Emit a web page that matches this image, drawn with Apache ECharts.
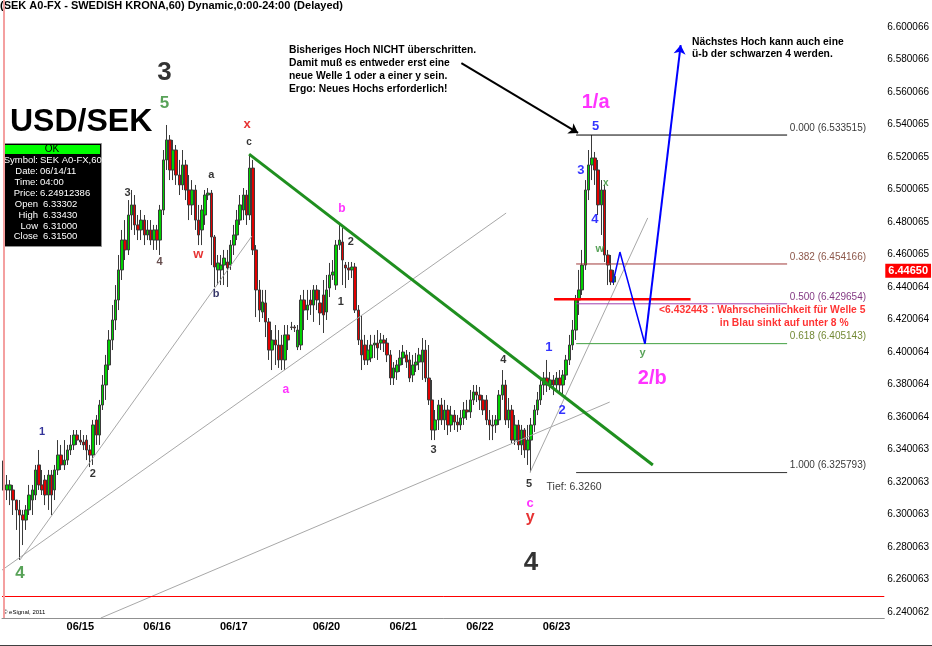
<!DOCTYPE html>
<html><head><meta charset="utf-8">
<script src="https://cdn.jsdelivr.net/npm/echarts@6/dist/echarts.min.js"></script>
<style>html,body{margin:0;padding:0;background:#fff}#c{width:932px;height:646px}</style>
</head><body><div id="c"></div><script>
// ---- categories (hourly bars) ----
const dayNames     = ['06/14','06/15','06/16','06/17','06/19','06/20','06/21','06/22','06/23'];
const dayFirstHour = [0,0,0,0,19,0,0,0,0];
const dayLastHour  = [23,23,23,23,23,23,23,23,18];
const slotCount = 276;

// ---- OHLC values (USD/SEK, 60 min) ----
const open = [
6.3330,6.3151,6.3151,6.3151,6.3089,6.3028,6.2997,6.2966,6.3028,6.3089,
6.3120,6.3305,6.3182,6.3212,6.3120,6.3243,6.3151,6.3274,6.3366,6.3305,
6.3335,6.3397,6.3428,6.3489,6.3458,6.3446,6.3458,6.3397,6.3366,6.3582,
6.3489,6.3674,6.3797,6.3920,6.4074,6.4197,6.4320,6.4505,6.4689,6.4628,
6.4843,6.4905,6.4782,6.4751,6.4812,6.4720,6.4751,6.4689,6.4751,6.4689,
6.4874,6.5182,6.5305,6.5120,6.5243,6.5089,6.5028,6.5151,6.4997,6.4905,
6.4997,6.4812,6.4751,6.4843,6.4966,6.4978,6.4708,6.4505,6.4505,6.4535,
6.4554,6.4535,6.4658,6.4720,6.4812,6.4874,6.4966,6.4843,6.5132,6.4628,
6.4382,6.4246,6.4302,6.4185,6.4012,6.4074,6.4043,6.4043,6.3951,6.4105,
6.4154,6.4154,6.4031,6.4043,6.4320,6.4258,6.4320,6.4289,6.4382,6.4302,
6.4351,6.4246,6.4394,6.4474,6.4412,6.4658,6.4677,6.4535,6.4517,6.4505,
6.4523,6.4258,6.4074,6.4043,6.3951,6.3963,6.4043,6.4055,6.4055,6.4074,
6.4055,6.3982,6.3840,6.3877,6.3920,6.3963,6.3982,6.3951,6.3858,6.3920,
6.3938,6.3938,6.4012,6.3840,6.3705,6.3520,6.3582,6.3674,6.3582,6.3643,
6.3551,6.3612,6.3569,6.3551,6.3594,6.3643,6.3631,6.3705,6.3754,6.3735,
6.3705,6.3705,6.3582,6.3551,6.3551,6.3582,6.3735,6.3797,6.3582,6.3643,
6.3458,6.3551,6.3428,6.3520,6.3397,6.3458,6.3551,6.3643,6.3705,6.3797,
6.3840,6.3797,6.3828,6.3797,6.3840,6.3797,6.3858,6.3951,6.4043,6.4135,
6.4320,6.4382,6.4535,6.4997,6.5151,6.5194,6.5120,6.4905,6.4997,6.4597,
6.4505,6.4431];
const close = [
6.3150,6.3182,6.3182,6.3089,6.3028,6.2997,6.2966,6.3028,6.3120,6.3151,
6.3274,6.3182,6.3151,6.3120,6.3243,6.3120,6.3274,6.3366,6.3305,6.3335,
6.3397,6.3428,6.3489,6.3458,6.3446,6.3428,6.3397,6.3366,6.3551,6.3489,
6.3674,6.3797,6.3920,6.4074,6.4197,6.4320,6.4505,6.4689,6.4628,6.4843,
6.4905,6.4782,6.4751,6.4812,6.4720,6.4751,6.4689,6.4751,6.4689,6.4874,
6.5182,6.5305,6.5120,6.5243,6.5089,6.5028,6.5151,6.4997,6.4905,6.4997,
6.4812,6.4720,6.4874,6.4966,6.4978,6.4708,6.4523,6.4548,6.4535,6.4578,
6.4517,6.4658,6.4720,6.4812,6.4905,6.4966,6.4843,6.5132,6.4628,6.4382,
6.4258,6.4308,6.4185,6.4012,6.4074,6.4043,6.3951,6.3951,6.4105,6.4074,
6.4151,6.4148,6.4135,6.4320,6.4258,6.4289,6.4289,6.4382,6.4320,6.4240,
6.4228,6.4382,6.4474,6.4492,6.4658,6.4689,6.4566,6.4517,6.4505,6.4523,
6.4258,6.4074,6.3982,6.3951,6.4012,6.4043,6.4055,6.4025,6.4074,6.4055,
6.3982,6.3840,6.3902,6.3920,6.3963,6.4000,6.3938,6.3840,6.3920,6.3938,
6.3982,6.4012,6.3840,6.3705,6.3520,6.3582,6.3674,6.3582,6.3643,6.3551,
6.3612,6.3569,6.3551,6.3594,6.3643,6.3631,6.3705,6.3754,6.3735,6.3705,
6.3643,6.3582,6.3551,6.3545,6.3582,6.3735,6.3797,6.3582,6.3643,6.3458,
6.3551,6.3428,6.3520,6.3397,6.3458,6.3551,6.3643,6.3705,6.3797,6.3840,
6.3797,6.3828,6.3797,6.3840,6.3797,6.3858,6.3951,6.4043,6.4135,6.4320,
6.4382,6.4535,6.4997,6.5151,6.5194,6.5120,6.4905,6.4997,6.4597,6.4535,
6.4431,6.4465];
const high = [
6.3343,6.3243,6.3212,6.3182,6.3089,6.3089,6.3028,6.3058,6.3182,6.3182,
6.3305,6.3397,6.3274,6.3243,6.3274,6.3274,6.3305,6.3458,6.3428,6.3458,
6.3428,6.3489,6.3520,6.3520,6.3520,6.3489,6.3489,6.3428,6.3582,6.3612,
6.3705,6.3858,6.3982,6.4135,6.4289,6.4412,6.4597,6.4751,6.4812,6.4935,
6.4997,6.4966,6.4843,6.4874,6.4843,6.4812,6.4812,6.4782,6.4782,6.4905,
6.5243,6.5397,6.5335,6.5305,6.5274,6.5182,6.5243,6.5182,6.5089,6.5058,
6.5028,6.4905,6.4905,6.4997,6.5009,6.4997,6.4720,6.4597,6.4597,6.4628,
6.4628,6.4689,6.4782,6.4874,6.4966,6.5009,6.4997,6.5218,6.5182,6.4658,
6.4443,6.4382,6.4382,6.4209,6.4135,6.4166,6.4135,6.4105,6.4166,6.4166,
6.4185,6.4166,6.4166,6.4351,6.4382,6.4382,6.4382,6.4412,6.4412,6.4382,
6.4443,6.4474,6.4548,6.4566,6.4689,6.4782,6.4763,6.4554,6.4554,6.4554,
6.4548,6.4289,6.4228,6.4105,6.4074,6.4105,6.4105,6.4135,6.4117,6.4105,
6.4086,6.4012,6.3938,6.3951,6.4012,6.4043,6.4012,6.4000,6.3982,6.3994,
6.4025,6.4086,6.4074,6.4043,6.3828,6.3643,6.3705,6.3717,6.3705,6.3674,
6.3668,6.3643,6.3612,6.3643,6.3692,6.3705,6.3766,6.3797,6.3797,6.3785,
6.3735,6.3735,6.3643,6.3612,6.3612,6.3766,6.3889,6.3828,6.3717,6.3674,
6.3612,6.3582,6.3551,6.3532,6.3551,6.3594,6.3674,6.3754,6.3840,6.3877,
6.3951,6.3877,6.3858,6.3877,6.3889,6.3889,6.3982,6.4105,6.4197,6.4351,
6.4505,6.4628,6.5058,6.5243,6.5335,6.5231,6.5182,6.5058,6.5028,6.4628,
6.4597,6.4505];
const low = [
6.3100,6.3089,6.3058,6.2997,6.2905,6.2720,6.2812,6.2905,6.2997,6.2997,
6.3089,6.3151,6.3120,6.3058,6.3028,6.2997,6.3089,6.3243,6.3274,6.3274,
6.3305,6.3366,6.3397,6.3428,6.3428,6.3397,6.3335,6.3292,6.3305,6.3428,
6.3428,6.3643,6.3705,6.3889,6.4012,6.4135,6.4258,6.4443,6.4566,6.4597,
6.4751,6.4720,6.4689,6.4689,6.4658,6.4689,6.4658,6.4628,6.4628,6.4597,
6.4843,6.5120,6.5058,6.5058,6.5028,6.4966,6.4997,6.4935,6.4812,6.4843,
6.4751,6.4658,6.4658,6.4782,6.4935,6.4535,6.4400,6.4412,6.4412,6.4412,
6.4400,6.4505,6.4597,6.4689,6.4782,6.4812,6.4782,6.4812,6.4597,6.4215,
6.4185,6.4209,6.4092,6.3951,6.3889,6.3920,6.3902,6.3889,6.3889,6.4012,
6.4135,6.4123,6.4012,6.4012,6.4135,6.4197,6.4228,6.4185,6.4258,6.4166,
6.4117,6.4197,6.4338,6.4443,6.4382,6.4628,6.4412,6.4394,6.4443,6.4455,
6.4240,6.4043,6.3889,6.3920,6.3920,6.3938,6.3963,6.3951,6.4012,6.4000,
6.3938,6.3797,6.3797,6.3828,6.3877,6.3920,6.3902,6.3815,6.3815,6.3877,
6.3889,6.3828,6.3815,6.3674,6.3458,6.3458,6.3520,6.3551,6.3520,6.3489,
6.3508,6.3520,6.3508,6.3520,6.3551,6.3582,6.3594,6.3674,6.3692,6.3643,
6.3612,6.3551,6.3458,6.3458,6.3502,6.3551,6.3705,6.3551,6.3532,6.3440,
6.3428,6.3397,6.3366,6.3348,6.3305,6.3260,6.3508,6.3612,6.3674,6.3735,
6.3754,6.3766,6.3735,6.3754,6.3754,6.3735,6.3828,6.3920,6.4012,6.4074,
6.4228,6.4351,6.4505,6.4935,6.5058,6.5028,6.4843,6.4720,6.4554,6.4412,
6.4412,6.4412];

// ---- price axis tick labels ----
const yTicks = [6.240062,6.260063,6.280063,6.300063,6.320063,6.340063,6.360064,6.380064,6.400064,
  6.420064,6.440064,6.460065,6.480065,6.500065,6.520065,6.540065,6.560066,6.580066,6.600066];

// ---- Fibonacci retracement ----
const fibRatios = ['0.000','0.382','0.500','0.618','1.000'];
const fibPrices = [6.533515,6.454166,6.429654,6.405143,6.325793];
const fibLineColors = ['#000000','#a03a3a','#a040b0','#40a040','#303030'];
const fibTextColors = ['#000000','#6e2a1a','#600060','#4f6a00','#000000'];

// ---- info box / cursor ----
const cursorPrice = 6.24912386;
const infoRows = [['Symbol:','SEK A0-FX,60'],['Date:','06/14/11'],['Time:','04:00'],['Price:','6.24912386'],
  ['Open','6.33302'],['High','6.33430'],['Low','6.31000'],['Close','6.31500']];
const redLevel = 6.432443;
const tiefPrice = 6.3260;

// ---- drawn annotation lines (bar index, price) ----
const fanLines = [
  [[5.1,6.2720],[77.7,6.4714]],
  [[-0.5,6.2658],[157.2,6.4855]],
  [[30.4,6.2363],[189.6,6.3692]],
  [[164.7,6.3260],[201.5,6.4825]]
];
const trendLine = [[76.8,6.5218],[203.1,6.3305]];
const bluePath = [[190.6,6.4425],[192.8,6.4615],[200.6,6.4051]];
const blueArrow = [[200.6,6.4051],[211.8,6.5889]];
const calloutArrow = [[143.2,6.5778],[179.7,6.5348]];
const fibSpan = [179.1,245.1];
const redSpan = [172.2,214.9];

// ---- wave labels: text, bar index, price, colour, size ----
const waveLabels = [
 ['3',50.3,6.5717,'#000000',26],['5',50.3,6.5532,'#2e8b2e',17],['4',5.1,6.2640,'#2e8b2e',17],
 ['1',12.0,6.3508,'#000080',11],['2',27.9,6.3249,'#000000',11],['3',38.8,6.4978,'#000000',11],
 ['4',48.8,6.4554,'#402020',11],['x',76.2,6.5403,'#e00000',13],['c',76.8,6.5292,'#000000',10],
 ['a',65.0,6.5089,'#000000',11],['w',60.9,6.4603,'#e00000',13],['b',66.5,6.4357,'#000040',11],
 ['b',105.8,6.4880,'#ff00ff',12],['2',108.6,6.4677,'#000000',11],['1',105.5,6.4308,'#000000',11],
 ['a',88.3,6.3766,'#ff00ff',12],['3',134.5,6.3397,'#000000',11],['4',156.3,6.3951,'#000000',11],
 ['5',164.4,6.3188,'#000000',11],['c',164.7,6.3071,'#ff00ff',13],['y',164.7,6.2978,'#e00000',16],
 ['4',165.0,6.2702,'#000000',26],['1',170.6,6.4031,'#0000ff',13],['2',174.7,6.3643,'#0000ff',13],
 ['1/a',185.2,6.5538,'#ff00ff',20],['5',185.2,6.5391,'#0000ff',13],['3',180.6,6.5120,'#0000ff',13],
 ['x',188.4,6.5040,'#2e8b2e',10],['4',185.0,6.4818,'#0000ff',13],['w',186.5,6.4634,'#2e8b2e',11],
 ['2/b',202.9,6.3840,'#ff00ff',20],['y',199.9,6.3994,'#2e8b2e',11]
];

const FONT = 'Liberation Sans';
const cats = [];
dayNames.forEach((d,k)=>{ for(let h=dayFirstHour[k]; h<=dayLastHour[k]; h++) cats.push(d+' '+String(h).padStart(2,'0')); });
while (cats.length < slotCount) cats.push('f'+cats.length);
const candles = open.map((o,i)=>[o, close[i], low[i], high[i]]);
const lastClose = close[close.length-1];

function seg(pts, color, width, extra) {
  return Object.assign({type:'line', xAxisIndex:1, yAxisIndex:0, data:pts, symbol:'none', silent:true,
    lineStyle:{color:color, width:width}, z:4, animation:false}, extra||{});
}

const series = [{
  type:'candlestick', xAxisIndex:0, yAxisIndex:0, data:candles, barWidth:3, z:2, silent:true,
  itemStyle:{color:'#00d000', color0:'#e00000', borderColor:'#3a3a3a', borderColor0:'#3a3a3a', borderWidth:1},
  markLine:{silent:true, symbol:['none','none'], animation:false, data:[
    {yAxis:lastClose, lineStyle:{color:'rgba(0,0,0,0)'}, label:{show:true, position:'end', distance:1,
      formatter: lastClose.toFixed(5), color:'#fff', backgroundColor:'#ff0000', padding:[2,3,1,3],
      fontSize:11, fontWeight:'bold', fontFamily:FONT}},
    {yAxis:cursorPrice, lineStyle:{color:'#ff0000', width:1, type:'solid'}, label:{show:false}},
    {xAxis:0, lineStyle:{color:'#f4a0a0', width:2, type:'solid'}, label:{show:false}}
  ]}
}];
fanLines.forEach(l=>series.push(seg(l,'#a8a8a8',1)));
fibPrices.forEach((p,k)=>series.push(seg([[fibSpan[0],p],[fibSpan[1],p]], fibLineColors[k], 1)));
series.push(seg([[redSpan[0],redLevel],[redSpan[1],redLevel]],'#ff0000',2.5));
series.push(seg(bluePath,'#0000ff',1.5));
series.push(seg(trendLine,'#1f8f1f',3,{markLine:{silent:true, animation:false, symbol:['none','arrow'], symbolSize:9, label:{show:false},
  data:[
    [{coord:blueArrow[0], lineStyle:{color:'#0000ff', width:2, type:'solid'}},{coord:blueArrow[1]}],
    [{coord:calloutArrow[0], lineStyle:{color:'#000000', width:2, type:'solid'}},{coord:calloutArrow[1]}]
  ]}}));

// text labels in data coordinates
const textData = waveLabels.map(w=>({name:w[0], value:[w[1],w[2]],
  label:{color:w[3], fontSize:w[4], fontWeight:'bold'}}));
fibPrices.forEach((p,k)=>textData.push({name: fibRatios[k]+' ('+p.toFixed(6)+')', value:[fibSpan[1]+0.7,p],
  label:{position:'right', distance:0, offset:[0,-7], color:fibTextColors[k], fontSize:10, fontWeight:'normal'}}));
textData.push({name:'Tief: '+tiefPrice.toFixed(4), value:[169.7,6.3169],
  label:{position:'right', distance:0, color:'#000', fontSize:10.5, fontWeight:'normal'}});
textData.push({name:'<'+redLevel.toFixed(6)+' : Wahrscheinlichkeit für Welle 5', value:[204.9,6.4258],
  label:{position:'right', distance:0, color:'#ff0000', fontSize:10.3, fontWeight:'bold'}});
textData.push({name:'in Blau sinkt auf unter 8 %', value:[223.9,6.4178],
  label:{position:'right', distance:0, color:'#ff0000', fontSize:10.3, fontWeight:'bold'}});
series.push({type:'scatter', xAxisIndex:1, yAxisIndex:0, data:textData, symbolSize:1, silent:true, z:6,
  itemStyle:{color:'rgba(0,0,0,0)'}, animation:false,
  label:{show:true, formatter:'{b}', position:'inside', fontFamily:FONT}});

const graphic = [
  {type:'text', x:0, y:0, style:{text:'(SEK A0-FX - SWEDISH KRONA,60) Dynamic,0:00-24:00 (Delayed)', font:'bold 11px "Liberation Sans"', fill:'#000'}},
  {type:'text', x:10, y:122, style:{text:'USD/SEK', font:'bold 32px "Liberation Sans"', fill:'#000', verticalAlign:'middle'}},
  {type:'rect', shape:{x:3.5,y:143.5,width:98,height:103}, style:{fill:'#000', stroke:'#909090', lineWidth:1}},
  {type:'rect', shape:{x:5,y:145,width:95,height:9}, style:{fill:'#00ff00'}},
  {type:'text', x:52, y:149.5, style:{text:'OK', font:'10px "Liberation Sans"', fill:'#000', align:'center', verticalAlign:'middle'}},
  {type:'text', x:289, y:43.5, style:{text:'Bisheriges Hoch NICHT überschritten.\nDamit muß es entweder erst eine\nneue Welle 1 oder a einer y sein.\nErgo: Neues Hochs erforderlich!', font:'bold 10.3px "Liberation Sans"', fill:'#000', lineHeight:13}},
  {type:'text', x:692, y:36, style:{text:'Nächstes Hoch kann auch eine\nü-b der schwarzen 4 werden.', font:'bold 10.3px "Liberation Sans"', fill:'#000', lineHeight:12}},
  {type:'text', x:3, y:612, style:{text:'© eSignal, 2011', font:'6px "Liberation Sans"', fill:'#000', verticalAlign:'middle'}},
  {type:'line', shape:{x1:0,y1:645.5,x2:932,y2:645.5}, style:{stroke:'#404040', lineWidth:1}}
];
infoRows.forEach((r,k)=>{
  const yy = 160.5 + k*10.9;
  graphic.push({type:'text', x:38, y:yy, style:{text:r[0], font:'9.5px "Liberation Sans"', fill:'#fff', align:'right', verticalAlign:'middle'}});
  graphic.push({type:'text', x:(k<4?40:43), y:yy, style:{text:r[1], font:'9.5px "Liberation Sans"', fill:'#fff', verticalAlign:'middle'}});
});

const chart = echarts.init(document.getElementById('c'));
chart.setOption({
  animation:false,
  backgroundColor:'#ffffff',
  textStyle:{fontFamily:FONT},
  grid:{left:2, right:44, top:0, bottom:28, containLabel:false},
  xAxis:[
    {type:'category', data:cats, boundaryGap:true, axisTick:{show:false}, splitLine:{show:false},
     axisLine:{lineStyle:{color:'#909090', width:1}},
     axisLabel:{interval:(i,v)=>i>0 && / 00$/.test(v), formatter:v=>v.slice(0,5), color:'#000', fontSize:11, fontWeight:'bold', margin:3}},
    {type:'value', min:-0.5, max:slotCount-0.5, show:false}
  ],
  yAxis:[{type:'value', position:'right', min:6.236308, max:6.616615, splitLine:{show:false},
    axisLine:{show:true, lineStyle:{color:'#303030'}}, axisTick:{show:false},
    axisLabel:{customValues:yTicks, formatter:v=>v.toFixed(6), color:'#000', fontSize:10, margin:3}}],
  series:series,
  graphic:graphic
});
</script></body></html>
